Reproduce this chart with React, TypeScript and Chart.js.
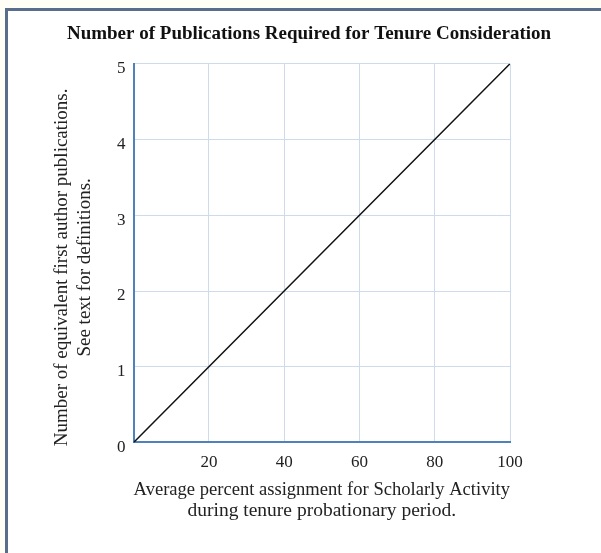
import React, { useEffect, useRef } from 'react';
import { Chart, registerables } from 'chart.js';

Chart.register(...registerables);

const TITLE = 'Number of Publications Required for Tenure Consideration';
const X_TITLE = ['Average percent assignment for Scholarly Activity', 'during tenure probationary period.'];
// trailing spaces nudge the centred rotated title toward the bottom, as in the original
const Y_TITLE = ['Number of equivalent first author publications.      ', 'See text for definitions.      '];

// percent assignment (x) and required publications (y)
const PERCENT = [0, 20, 40, 60, 80, 100];
const PUBLICATIONS = [0, 1, 2, 3, 4, 5];

const X_TICKS = [0, 20, 40, 60, 80, 100];
const X_TICK_LABELS = ['', '20', '40', '60', '80', '100'];
const Y_TICKS = [0, 1, 2, 3, 4, 5];
const Y_TICK_LABELS = ['0', '1', '2', '3', '4', '5'];

const FONT = '"Liberation Serif", "Times New Roman", serif';

export default function App() {
  const ref = useRef<HTMLCanvasElement | null>(null);

  useEffect(() => {
    if (!ref.current) return;
    const chart = new Chart(ref.current, {
      type: 'line',
      data: {
        datasets: [
          {
            data: PERCENT.map((x, i) => ({ x, y: PUBLICATIONS[i] })),
            borderColor: '#111111',
            borderWidth: 1.5,
            pointRadius: 0,
            fill: false,
            tension: 0,
          },
        ],
      },
      options: {
        responsive: false,
        animation: false,
        layout: { padding: { left: 17, right: 0, top: 0, bottom: 0 } },
        plugins: {
          legend: { display: false },
          tooltip: { enabled: false },
          title: {
            display: true,
            text: TITLE,
            color: '#111111',
            font: { family: FONT, size: 19, weight: 'bold', lineHeight: 1.2 },
            padding: { top: 23, bottom: 18 },
          },
        },
        scales: {
          x: {
            type: 'linear',
            min: 0,
            max: 100,
            afterBuildTicks: (s: any) => {
              s.ticks = X_TICKS.map((v) => ({ value: v }));
            },
            ticks: {
              padding: 10,
              color: '#222222',
              font: { family: FONT, size: 17, lineHeight: 1.2 },
              callback: (_v: any, i: number) => X_TICK_LABELS[i],
              maxRotation: 0,
            },
            grid: { color: '#cddbea', lineWidth: 1, drawTicks: false },
            border: { color: '#4f81bd', width: 2 },
            title: {
              display: true,
              text: X_TITLE,
              color: '#222222',
              font: { family: FONT, size: 19.5, lineHeight: 1.08 },
              padding: { top: -4, bottom: 32 },
            },
          },
          y: {
            type: 'linear',
            min: 0,
            max: 5,
            afterBuildTicks: (s: any) => {
              s.ticks = Y_TICKS.map((v) => ({ value: v }));
            },
            ticks: {
              padding: 8,
              labelOffset: 5,
              color: '#222222',
              font: { family: FONT, size: 17, lineHeight: 1.2 },
              callback: (_v: any, i: number) => Y_TICK_LABELS[i],
            },
            grid: { color: '#cddbea', lineWidth: 1, drawTicks: false },
            border: { color: '#4f81bd', width: 2 },
            title: {
              display: true,
              text: Y_TITLE,
              color: '#222222',
              font: { family: FONT, size: 19, lineHeight: 1.2 },
              padding: { top: 33.5, bottom: 13 },
            },
          },
          spacer: {
            type: 'linear',
            position: 'right',
            display: true,
            ticks: { display: false },
            grid: { display: false },
            border: { display: false },
            afterFit: (s: any) => {
              s.width = 91;
            },
          },
        },
      },
    });
    return () => chart.destroy();
  }, []);

  return (
    <div
      style={{
        position: 'absolute',
        left: 0,
        top: 0,
        width: 601,
        height: 553,
        overflow: 'hidden',
        background: '#fffef6',
      }}
    >
      <div
        style={{
          position: 'absolute',
          left: 5,
          top: 8,
          width: 620,
          height: 570,
          background: '#ffffff',
          borderTop: '3px solid #586c8c',
          borderLeft: '3px solid #586c8c',
        }}
      />
      <canvas
        ref={ref}
        width={601}
        height={553}
        style={{ position: 'absolute', left: 0, top: 0, width: 601, height: 553 }}
      />
    </div>
  );
}
